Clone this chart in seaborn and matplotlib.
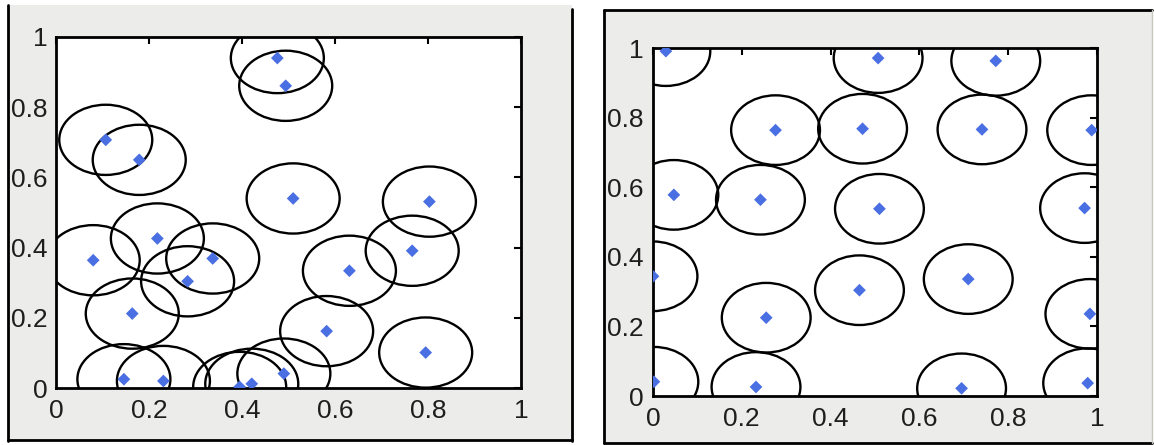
import matplotlib
matplotlib.use("Agg")
import matplotlib.pyplot as plt
from matplotlib.patches import Circle, Rectangle
from matplotlib.lines import Line2D
import pandas as pd
import seaborn as sns

# Random sensor placement
left_x = [0.476, 0.494, 0.107, 0.179, 0.510, 0.803, 0.218, 0.080, 0.337, 0.283,
          0.766, 0.631, 0.164, 0.582, 0.795, 0.146, 0.231, 0.395, 0.421, 0.490]
left_y = [0.940, 0.861, 0.707, 0.650, 0.540, 0.531, 0.426, 0.364, 0.369, 0.304,
          0.391, 0.334, 0.212, 0.162, 0.101, 0.025, 0.020, 0.003, 0.012, 0.041]

# Regular (optimised) sensor placement
right_x = [0.029, 0.507, 0.772, 0.276, 0.472, 0.741, 0.988, 0.047, 0.242, 0.510,
           0.972, 0.000, 0.465, 0.710, 0.255, 0.984, 0.002, 0.232, 0.695, 0.979]
right_y = [0.991, 0.971, 0.963, 0.764, 0.768, 0.766, 0.764, 0.578, 0.564, 0.538,
           0.540, 0.344, 0.304, 0.336, 0.225, 0.236, 0.041, 0.026, 0.022, 0.037]

sensing_radius = 0.1
tick_values = [0, 0.2, 0.4, 0.6, 0.8, 1]
tick_labels = ["0", "0.2", "0.4", "0.6", "0.8", "1"]

sns.set_style("white")
plt.rcParams["font.family"] = ["Liberation Sans", "DejaVu Sans"]

W, H = 1154, 445
fig = plt.figure(figsize=(W / 100, H / 100), dpi=100)
fig.patch.set_facecolor("white")


def px_rect(x0, y0, x1, y1):
    """Figure-fraction rectangle from pixel corners (origin top-left)."""
    return [x0 / W, 1 - y1 / H, (x1 - x0) / W, (y1 - y0) / H]


def px_line(x0, y0, x1, y1, lw=2.0, color="black"):
    fig.add_artist(Line2D([x0 / W, x1 / W], [1 - y0 / H, 1 - y1 / H],
                          transform=fig.transFigure, color=color, lw=lw, zorder=0))


# panel backgrounds and frames
bg = "#ececea"
for (x0, y0, x1, y1) in [(8, 5, 572, 441), (604, 10, 1152, 443)]:
    r = px_rect(x0, y0, x1, y1)
    fig.add_artist(Rectangle((r[0], r[1]), r[2], r[3], transform=fig.transFigure,
                             facecolor=bg, edgecolor="none", zorder=-1))
px_line(8, 5, 8, 441)
px_line(8, 440, 572, 440)
px_line(572, 9, 572, 441)
px_line(604, 10, 604, 443)
px_line(604, 10, 1152, 10)
px_line(604, 443, 1152, 443)
px_line(1152, 10, 1152, 443, lw=1.0, color="#c8c8c0")

axes_boxes = [px_rect(56, 37, 521, 388), px_rect(653, 48, 1097, 396)]
datasets = [(left_x, left_y), (right_x, right_y)]
pads_y = [6, 7]

for box, (xs, ys), pady in zip(axes_boxes, datasets, pads_y):
    ax = fig.add_axes(box)
    ax.set_facecolor("white")
    df = pd.DataFrame({"x": xs, "y": ys})
    for cx, cy in zip(df["x"], df["y"]):
        ax.add_patch(Circle((cx, cy), sensing_radius, fill=False,
                            edgecolor="black", lw=1.7, zorder=2))
    sns.scatterplot(data=df, x="x", y="y", ax=ax, marker="D", s=42,
                    color="#4a6fe3", edgecolor="none", zorder=3, legend=False)
    ax.set_xlim(0, 1)
    ax.set_ylim(0, 1)
    ax.set_xticks(tick_values)
    ax.set_yticks(tick_values)
    ax.set_xticklabels(tick_labels)
    ax.set_yticklabels(tick_labels)
    ax.set_xlabel("")
    ax.set_ylabel("")
    ax.tick_params(direction="in", length=5, width=1.5, top=True, right=True,
                   labelsize=19, colors="black", labelcolor="#1e1e1e")
    ax.tick_params(axis="x", pad=8)
    ax.tick_params(axis="y", pad=pady)
    for sp in ax.spines.values():
        sp.set_visible(True)
        sp.set_color("black")
        sp.set_linewidth(2)

fig.savefig("out.png", dpi=100, facecolor=fig.get_facecolor())
